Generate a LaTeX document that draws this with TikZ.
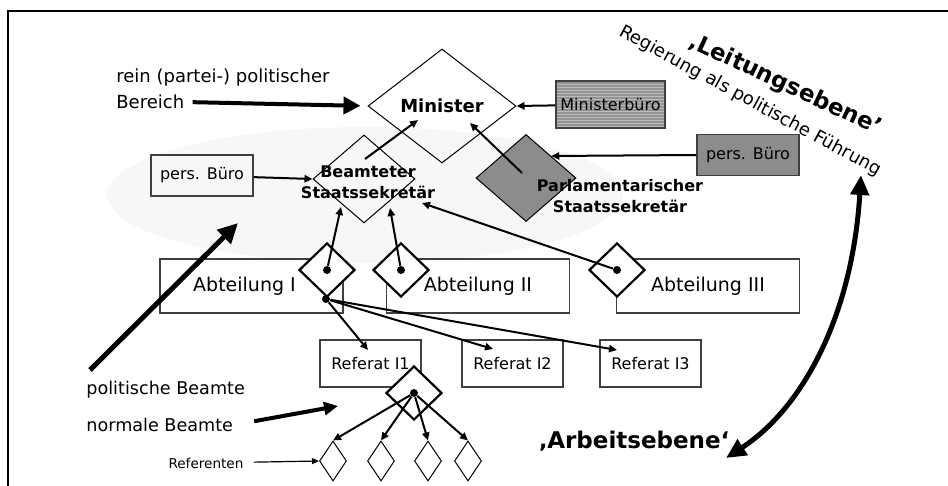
\documentclass[tikz,border=0pt]{standalone}
\usepackage{fontspec}
\setmainfont{DejaVu Sans}
\usetikzlibrary{shapes.geometric,arrows.meta}

\tikzstyle{kasten}=[rectangle,draw=black!75,line width=0.7pt,inner sep=0pt,font=\fontsize{8}{9.6}\selectfont]
\tikzstyle{abtkasten}=[kasten,minimum width=91.5pt,minimum height=27pt,font=\fontsize{9.5}{11}\selectfont]
\tikzstyle{refkasten}=[kasten,minimum width=50.5pt,minimum height=23.5pt]
\tikzstyle{buero}=[kasten,minimum width=51pt,minimum height=20.5pt]
\tikzstyle{raute}=[diamond,draw,line width=0.5pt,inner sep=0pt]
\tikzstyle{abtraute}=[diamond,draw,fill=white,line width=1.1pt,inner sep=0pt,minimum width=28pt,minimum height=27pt]
\tikzstyle{klein}=[diamond,draw,line width=0.5pt,inner sep=0pt,minimum width=13.5pt,minimum height=20pt]
\tikzstyle{punkt}=[circle,fill=black,inner sep=0pt,minimum size=4pt]
\tikzstyle{fett}=[font=\bfseries\fontsize{8}{10.7}\selectfont,align=center,inner sep=0pt]
\tikzstyle{schrift}=[inner sep=0pt,font=\fontsize{8.8}{10}\selectfont]
\tikzstyle{pfeil}=[line width=1pt,-{Triangle[length=4pt,width=3.6pt]}]
\tikzstyle{duenn}=[line width=0.6pt,-{Triangle[length=3.5pt,width=3pt]}]
\tikzstyle{dickpfeil}=[line width=2pt,-{Triangle[length=8.5pt,width=8.5pt]}]

\begin{document}
\begin{tikzpicture}[x=0.5pt,y=-0.5pt]
			\useasboundingbox (0,0) rectangle (948,486);
			%Faint background and frame
			\fill[black!3] (365,195) ellipse [x radius=129pt, y radius=34pt];
			\draw[line width=0.8pt] (948,11) -- (8,11) -- (8,486);
			%Leitungsebene
			\node[raute,minimum width=74pt,minimum height=57pt,font=\bfseries\fontsize{9}{10}\selectfont] (minister) at (442,106) {Minister};
			\node[buero,minimum width=54.5pt,minimum height=23.5pt,fill=black!42,
				path picture={\foreach \k in {1,...,15}
					\draw[black!27,line width=0.35pt] ([yshift=-\k*1.5pt]path picture bounding box.north west) -- ([yshift=-\k*1.5pt]path picture bounding box.north east);}] (ministerbuero) at (610.5,104.5) {Ministerb\"uro};
			\node[buero,fill=black!45] (bueroR) at (748,155) {pers. B\"uro};
			\node[raute,fill=black!45,minimum width=50pt,minimum height=43.5pt] (parlst) at (526,178) {};
			\node[fett] (parltxt) at (620,196) {Parlamentarischer\\Staatssekret\"ar};
			\node[raute,minimum width=51pt,minimum height=44pt] (beamtst) at (364,179) {};
			\node[fett] (beamttxt) at (368,182) {Beamteter\\Staatssekret\"ar};
			\node[buero] (bueroL) at (202,175.5) {pers. B\"uro};
			%The Abteilungen
			\foreach \pos/\name/\text in {{(251.5,286)/abt1/Abteilung I\hspace*{7pt}}, {(478,286)/abt2/Abteilung II}, {(708,286)/abt3/Abteilung III}}
			\node[abtkasten] (\name) at \pos {\text};
			\foreach \pos/\name in {{(327,270)/ra1}, {(401,270)/ra2}, {(617,270)/ra3}}
			{\node[abtraute] (\name) at \pos {};
			 \node[punkt] (\name p) at \pos {};}
			%The Referate
			\foreach \pos/\name/\text in {{(370.5,363.5)/ref1/Referat I1}, {(512.5,363.5)/ref2/Referat I2}, {(650.5,363.5)/ref3/Referat I3}}
			\node[refkasten] (\name) at \pos {\text};
			\node[punkt] (verzweig) at (326,299) {};
			\node[abtraute] (ra4) at (414,393) {};
			\node[punkt] (ra4p) at (414,393) {};
			\foreach \pos/\name in {{(333,461)/rt1}, {(381,461)/rt2}, {(428,461)/rt3}, {(468,461)/rt4}}
			\node[klein] (\name) at \pos {};
			%Texts
			\node[schrift,anchor=west,font=\fontsize{9}{10}\selectfont] (rein) at (116,78) {rein (partei-) politischer};
			\node[schrift,anchor=west,font=\fontsize{9}{10}\selectfont] (bereich) at (116,102) {Bereich};
			\node[schrift,anchor=west] (polbeamte) at (86,390) {politische Beamte};
			\node[schrift,anchor=west] (normale) at (86,425) {normale Beamte};
			\node[schrift,font=\fontsize{6.8}{8}\selectfont] (referenten) at (206,463) {Referenten};
			\node[inner sep=0pt,rotate=-25,font=\bfseries\fontsize{11.5}{12}\selectfont] (leitung) at (785,85) {‚Leitungsebene'};
			\node[inner sep=0pt,rotate=-28.5,font=\fontsize{9}{10}\selectfont] (regierung) at (750,101) {Regierung als politische F\"uhrung};
			\node[inner sep=0pt,font=\bfseries\fontsize{11.5}{12}\selectfont] (arbeit) at (634,441) {‚Arbeitsebene‘};
			%Free ends of the connectors
			\coordinate (bs-aus) at (365,159);
			\coordinate (min-ein) at (418,120);
			\coordinate (ps-aus) at (522,173);
			\coordinate (min-ein2) at (470,123);
			\coordinate (bs1) at (341,207);
			\coordinate (bs2) at (390,208);
			\coordinate (bs3) at (422,203);
			\coordinate (ref1-ein) at (368,350);
			\coordinate (ref2-ein) at (493,349);
			\coordinate (ref3-ein) at (617,350);
			\coordinate (pb-fuss) at (90,370);
			\coordinate (pb-spitze) at (238,223);
			\coordinate (nb-spitze) at (338,406);
			\coordinate (leit) at (861,175);
			\coordinate (arb) at (726,458);
			%Connectors
			\draw[pfeil] (ministerbuero) -- (minister.east);
			\draw[pfeil] (bueroR.west) -- (parlst.north east);
			\draw[pfeil] (bueroL) -- (beamtst.west);
			\draw[pfeil] (bs-aus) -- (min-ein);
			\draw[pfeil] (ps-aus) -- (min-ein2);
			\draw[pfeil] (ra1p) -- (bs1);
			\draw[pfeil] (ra2p) -- (bs2);
			\draw[pfeil] (ra3p) -- (bs3);
			\foreach \ziel in {ref1-ein, ref2-ein, ref3-ein}
			\draw[pfeil] (verzweig) -- (\ziel);
			\foreach \ziel in {rt1, rt2, rt3, rt4}
			\draw[pfeil] (ra4p) -- (\ziel.north);
			\draw[duenn,shorten <=5pt] (referenten) -- (rt1.west);
			\draw[dickpfeil,shorten <=4pt,shorten >=3.5pt] (bereich.east) -- (minister.west);
			\draw[dickpfeil,line width=2.5pt,-{Triangle[length=10pt,width=9.5pt]}] (pb-fuss) -- (pb-spitze);
			\draw[dickpfeil,-{Triangle[length=7pt,width=6.5pt]},shorten <=10.5pt] (normale.east) -- (nb-spitze);
			\draw[line width=2.5pt,{Triangle[length=10pt,width=9pt]}-{Triangle[length=10pt,width=9pt]}] (leit) .. controls (852,320) and (800,410) .. (arb);
		\end{tikzpicture}
\end{document}
